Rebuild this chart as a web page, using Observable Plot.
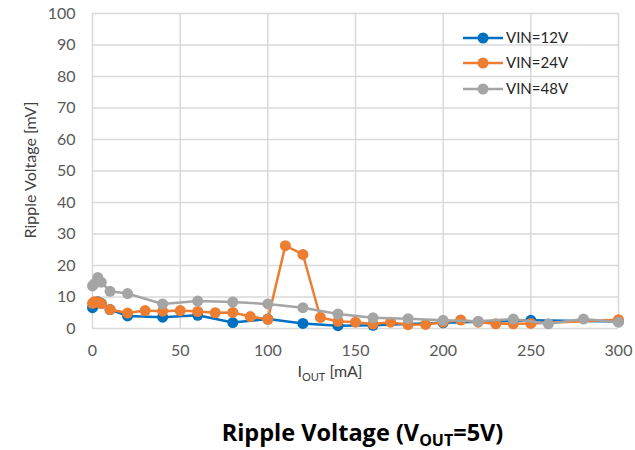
<!DOCTYPE html>
<html>
<head>
<meta charset="utf-8">
<script src="https://cdn.jsdelivr.net/npm/d3@7"></script>
<script src="https://cdn.jsdelivr.net/npm/@observablehq/plot@0.6"></script>
<style>
  body { margin: 0; background: #fff; }
  #wrap { position: relative; width: 635px; height: 450px; font-family: Lato, "Open Sans", sans-serif; }
  #title { position: absolute; left: 0; width: 725px; top: 416px; text-align: center; font-size: 23.5px; font-weight: bold; color: #000; font-family: "Open Sans", Lato, sans-serif; }
  #title sub { font-size: 16px; vertical-align: -5px; line-height: 0; }
</style>
</head>
<body>
<div id="wrap"></div>
<script>
// Data
const xTicks = [0, 50, 100, 150, 200, 250, 300];
const yTicks = [0, 10, 20, 30, 40, 50, 60, 70, 80, 90, 100];

const iout12 = [0, 1, 3, 5, 10, 20, 40, 60, 80, 100, 120, 140, 160, 200, 250, 300];
const vin12  = [6.6, 7.6, 8.5, 8.0, 6.0, 4.0, 3.6, 4.2, 1.9, 3.0, 1.6, 0.9, 1.0, 1.8, 2.6, 2.2];

const iout24 = [0, 1, 3, 5, 10, 20, 30, 40, 50, 60, 70, 80, 90, 100, 110, 120, 130, 140, 150, 160, 170, 180, 190, 200, 210, 220, 230, 240, 250, 300];
const vin24  = [8.0, 8.5, 8.4, 7.9, 6.0, 4.9, 5.7, 5.5, 5.7, 5.4, 5.0, 5.1, 3.8, 2.9, 26.3, 23.5, 3.5, 2.3, 2.0, 1.4, 2.0, 1.2, 1.3, 2.0, 2.7, 2.0, 1.5, 1.5, 1.6, 2.8];

const iout48 = [0, 1, 3, 5, 10, 20, 40, 60, 80, 100, 120, 140, 160, 180, 200, 220, 240, 260, 280, 300];
const vin48  = [13.5, 14.2, 16.2, 14.7, 11.8, 11.1, 7.8, 8.7, 8.4, 7.8, 6.6, 4.6, 3.4, 3.1, 2.6, 2.3, 3.0, 1.5, 3.0, 2.0];

const seriesNames = ["VIN=12V", "VIN=24V", "VIN=48V"];
const seriesColors = ["#0070C0", "#ED7D31", "#A5A5A5"];

const toRows = (xs, ys) => xs.map((x, i) => ({x, y: ys[i]}));
const series = [toRows(iout12, vin12), toRows(iout24, vin24), toRows(iout48, vin48)];

const marks = [
  Plot.gridX(xTicks, {stroke: "#d9d9d9", strokeOpacity: 1, strokeWidth: 1.5}),
  Plot.gridY(yTicks, {stroke: "#d9d9d9", strokeOpacity: 1, strokeWidth: 1.5}),
  Plot.axisX(xTicks, {tickSize: 0, tickPadding: 16, fontSize: 16, fill: "#595959"}),
  Plot.axisY(yTicks, {tickSize: 0, tickPadding: 17, fontSize: 16, fill: "#595959"})
];
series.forEach((rows, i) => {
  marks.push(Plot.line(rows, {x: "x", y: "y", stroke: seriesColors[i], strokeWidth: 2.5}));
  marks.push(Plot.dot(rows, {x: "x", y: "y", r: 5.5, fill: seriesColors[i], stroke: "none"}));
});

const chart = Plot.plot({
  width: 635,
  height: 410,
  marginLeft: 92,
  marginRight: 17,
  marginTop: 13,
  marginBottom: 82,
  style: {fontFamily: "Lato, 'Open Sans', sans-serif", background: "#fff", fontSize: "16px"},
  x: {domain: [0, 300], label: null},
  y: {domain: [0, 100], label: null},
  marks
});

const svg = d3.select(chart);

// X axis label with subscript
const xl = svg.append("text")
  .attr("x", 330).attr("y", 377)
  .attr("text-anchor", "middle")
  .attr("font-size", 16).attr("fill", "#404040");
xl.append("tspan").text("I");
xl.append("tspan").attr("font-size", 11).attr("dy", 4).text("OUT");
xl.append("tspan").attr("dy", -4).text(" [mA]");

// Y axis label
svg.append("text")
  .attr("transform", "translate(36,170) rotate(-90)")
  .attr("text-anchor", "middle")
  .attr("font-size", 16).attr("fill", "#404040")
  .text("Ripple Voltage [mV]");

// Legend
const legendY = [38, 63, 89];
seriesNames.forEach((name, i) => {
  const g = svg.append("g").attr("transform", `translate(0,${legendY[i]})`);
  g.append("line").attr("x1", 463).attr("x2", 503).attr("y1", 0).attr("y2", 0)
    .attr("stroke", seriesColors[i]).attr("stroke-width", 2.5);
  g.append("circle").attr("cx", 483).attr("cy", 0).attr("r", 5.5).attr("fill", seriesColors[i]);
  g.append("text").attr("x", 506).attr("y", 0).attr("dy", "0.35em")
    .attr("text-anchor", "start")
    .attr("font-size", 15).attr("fill", "#262626").text(name);
});

const wrap = document.getElementById("wrap");
wrap.appendChild(chart);
const title = document.createElement("div");
title.id = "title";
title.innerHTML = "Ripple Voltage (V<sub>OUT</sub>=5V)";
wrap.appendChild(title);
</script>
</body>
</html>
